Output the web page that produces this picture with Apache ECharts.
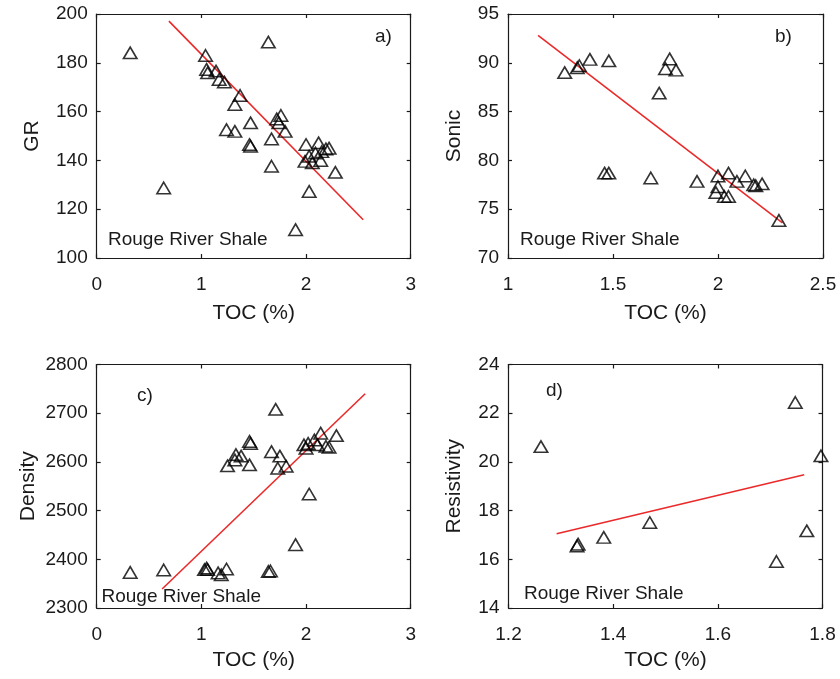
<!DOCTYPE html>
<html>
<head>
<meta charset="utf-8">
<script src="https://cdn.jsdelivr.net/npm/echarts@6/dist/echarts.min.js"></script>
<style>
html,body{margin:0;padding:0;background:#fff;}
#c{width:840px;height:679px;}
</style>
</head>
<body>
<div id="c"></div>
<script>
// ---- Data ----
// Panel a) GR vs TOC
var tocA = [0.32,1.64,1.04,1.05,1.06,1.14,1.17,1.22,1.37,1.32,1.76,1.72,1.74,1.47,1.24,1.32,1.80,1.67,1.46,1.47,2.00,2.12,2.19,2.15,2.03,1.99,2.14,2.06,2.28,1.67,2.03,0.64,1.90,2.09,2.22];
var grA  = [184.1,188.5,183.0,177.3,175.9,176.6,173.2,172.1,166.6,162.9,158.4,157.0,155.4,155.4,152.6,151.9,151.9,148.8,146.5,145.8,146.5,147.2,144.7,143.6,141.7,139.6,140.0,139.0,135.1,137.6,127.3,128.7,111.6,143.0,145.0];
var fitA = [[0.69,197.1],[2.546,115.7]];

// Panel b) Sonic vs TOC
var tocB = [1.27,1.33,1.34,1.39,1.48,1.77,1.75,1.80,1.72,1.46,1.48,1.68,1.90,2.00,2.05,2.00,1.99,2.03,2.05,2.13,2.09,2.17,2.21,2.18,2.29];
var sonicB = [89.0,89.5,89.7,90.35,90.2,90.4,89.4,89.25,86.9,78.7,78.7,78.2,77.85,78.4,78.7,77.3,76.7,76.3,76.3,78.4,77.85,77.5,77.6,77.4,73.85];
var fitB = [[1.143,92.8],[2.307,73.6]];

// Panel c) Density vs TOC
var tocC = [0.32,0.64,1.05,1.06,1.03,1.16,1.19,1.24,1.64,1.66,1.90,2.03,1.71,1.25,1.32,1.33,1.38,1.46,1.46,1.47,1.67,1.75,1.73,1.81,1.98,2.02,2.00,2.14,2.29,2.11,2.19,2.22,2.08];
var densC = [2373,2378,2382,2379,2379,2372,2368,2380,2375,2376,2430,2534,2708,2592,2604,2615,2612,2594,2642,2638,2621,2612,2587,2591,2635,2638,2628,2659,2654,2635,2632,2630,2645];
var fitC = [[0.625,2339],[2.565,2740]];

// Panel d) Resistivity vs TOC
var tocD = [1.262,1.331,1.333,1.382,1.470,1.748,1.797,1.770,1.712];
var resD = [20.63,16.55,16.62,16.9,17.51,22.44,20.25,17.17,15.91];
var fitD = [[1.292,17.05],[1.765,19.47]];

// Axis settings
var xTicksTop = {min:0, max:3, interval:1};
var xTicksB = {min:1, max:2.5, interval:0.5};
var xTicksD = {min:1.2, max:1.8, interval:0.2};
var yTicksA = {min:100, max:200, interval:20};
var yTicksB = {min:70, max:95, interval:5};
var yTicksC = {min:2300, max:2800, interval:100};
var yTicksD = {min:14, max:24, interval:2};

var panelLabels = ['a)','b)','c)','d)'];
var yNames = ['GR','Sonic','Density','Resistivity'];
var xName = 'TOC (%)';
var noteText = 'Rouge River Shale';

function zip(xs, ys){ return xs.map(function(x,i){ return [x, ys[i]]; }); }
function plain(v){ return String(Math.round(v*1000)/1000); }

var FONT = '"Liberation Sans", Arial, Helvetica, sans-serif';
var INK = '#1a1a1a';

var grids = [
  {left:96.7, top:14, width:314, height:244},
  {left:508,  top:14, width:315, height:244},
  {left:96.7, top:364.5, width:314, height:243.5},
  {left:508.5,top:364.5, width:314, height:243.5}
];
var xSets = [xTicksTop, xTicksB, xTicksTop, xTicksD];
var ySets = [yTicksA, yTicksB, yTicksC, yTicksD];
var yNameGaps = [54, 43, 58, 44];
var xNameGaps = [45, 45, 42, 42];

var xAxes = [], yAxes = [], series = [];
var lineStyle = {color: INK, width: 1.2};
grids.forEach(function(g, i){
  var xs = xSets[i], ys = ySets[i];
  xAxes.push({
    gridIndex:i, type:'value', position:'bottom', min:xs.min, max:xs.max, interval:xs.interval,
    axisLine:{show:true, onZero:false, lineStyle:lineStyle},
    axisTick:{show:true, inside:true, length:4, lineStyle:lineStyle},
    splitLine:{show:false},
    axisLabel:{color:INK, fontSize:19, fontFamily:FONT, margin:17, formatter:plain},
    name:xName, nameLocation:'middle', nameGap:xNameGaps[i],
    nameTextStyle:{color:INK, fontSize:21, fontFamily:FONT}
  });
  xAxes.push({
    gridIndex:i, type:'value', position:'top', min:xs.min, max:xs.max, interval:xs.interval,
    axisLine:{show:true, onZero:false, lineStyle:lineStyle},
    axisTick:{show:true, inside:true, length:4, lineStyle:lineStyle},
    axisLabel:{show:false}, splitLine:{show:false}
  });
  yAxes.push({
    gridIndex:i, type:'value', position:'left', min:ys.min, max:ys.max, interval:ys.interval,
    axisLine:{show:true, onZero:false, lineStyle:lineStyle},
    axisTick:{show:true, inside:true, length:4, lineStyle:lineStyle},
    splitLine:{show:false},
    axisLabel:{color:INK, fontSize:19, fontFamily:FONT, margin:9, formatter:plain},
    name:yNames[i], nameLocation:'middle', nameGap:yNameGaps[i], nameRotate:90,
    nameTextStyle:{color:INK, fontSize:21, fontFamily:FONT}
  });
  yAxes.push({
    gridIndex:i, type:'value', position:'right', min:ys.min, max:ys.max, interval:ys.interval,
    axisLine:{show:true, onZero:false, lineStyle:lineStyle},
    axisTick:{show:true, inside:true, length:4, lineStyle:lineStyle},
    axisLabel:{show:false}, splitLine:{show:false}
  });
});

var scatterData = [zip(tocA, grA), zip(tocB, sonicB), zip(tocC, densC), zip(tocD, resD)];
var fits = [fitA, fitB, fitC, fitD];
scatterData.forEach(function(d, i){
  series.push({
    type:'line', xAxisIndex:2*i, yAxisIndex:2*i, data:fits[i],
    showSymbol:false, symbol:'none', silent:true, animation:false, z:2,
    lineStyle:{color:'#ea2a2a', width:1.6}
  });
  series.push({
    type:'scatter', xAxisIndex:2*i, yAxisIndex:2*i, data:d,
    symbol:'triangle', symbolSize:[13.5,11.5], animation:false, z:3, clip:false,
    itemStyle:{color:'rgba(0,0,0,0)', borderColor:'#000', borderWidth:1.6}
  });
});

var labelPos = [[384,38],[784,38],[146,397],[555,392]];
var notePos = [[108,241],[520,241],[101.5,598],[524,595]];
var graphics = [];
labelPos.forEach(function(p, i){
  graphics.push({type:'text', left:p[0]-9, top:p[1]-11,
    style:{text:panelLabels[i], fill:INK, font:'19px ' + FONT}});
});
notePos.forEach(function(p){
  graphics.push({type:'text', left:p[0], top:p[1]-11,
    style:{text:noteText, fill:INK, font:'19px ' + FONT}});
});

var chart = echarts.init(document.getElementById('c'), null, {renderer:'canvas'});
chart.setOption({
  backgroundColor:'#fff',
  animation:false,
  grid:grids,
  xAxis:xAxes,
  yAxis:yAxes,
  series:series,
  graphic:graphics
});
</script>
</body>
</html>
